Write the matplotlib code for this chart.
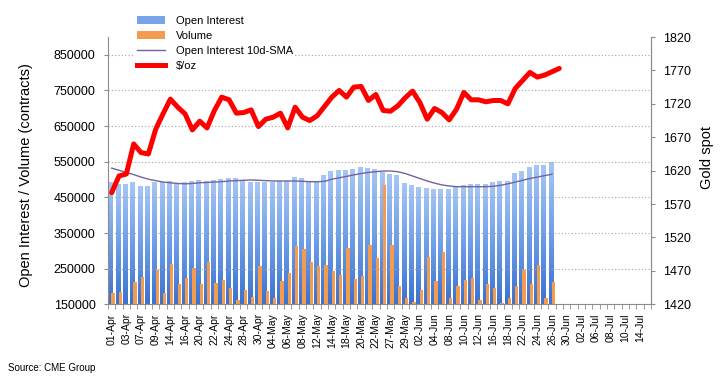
import numpy as np
import matplotlib
matplotlib.use('Agg')
import matplotlib.pyplot as plt
from matplotlib.colors import LinearSegmentedColormap
from matplotlib.patches import Patch
from matplotlib.lines import Line2D
from matplotlib.ticker import StrMethodFormatter

plt.rcParams['font.family'] = ['Liberation Sans', 'DejaVu Sans']

# every other trading day gets a label (01-Apr .. 14-Jul)
tick_labels = ['01-Apr', '03-Apr', '07-Apr', '09-Apr', '14-Apr', '16-Apr', '20-Apr', '22-Apr',
               '24-Apr', '28-Apr', '30-Apr', '04-May', '06-May', '08-May', '12-May', '14-May',
               '18-May', '20-May', '22-May', '27-May', '29-May', '02-Jun', '04-Jun', '08-Jun',
               '10-Jun', '12-Jun', '16-Jun', '18-Jun', '22-Jun', '24-Jun', '26-Jun', '30-Jun',
               '02-Jul', '06-Jul', '08-Jul', '10-Jul', '14-Jul']
n_slots = 74

# contracts, thousands
open_interest = [490, 484, 485, 492, 479, 479, 492, 492, 493, 489, 492, 493, 496, 493, 496, 499,
                 502, 502, 497, 492, 492, 492, 492, 494, 494, 504, 501, 494, 494, 510, 521, 524,
                 524, 527, 532, 529, 527, 518, 513, 510, 488, 482, 476, 473, 471, 471, 471, 476,
                 483, 485, 485, 485, 492, 493, 493, 516, 523, 532, 538, 538, 546]
volume = [183, 185, 152, 213, 227, 152, 246, 183, 263, 206, 223, 251, 206, 270, 211, 218,
          195, 162, 190, 171, 258, 187, 169, 216, 239, 314, 304, 270, 258, 260, 244, 232,
          309, 221, 230, 317, 279, 485, 317, 202, 169, 157, 190, 284, 216, 298, 168, 202,
          218, 225, 162, 207, 195, 153, 168, 202, 246, 207, 260, 168, 213]
oi_sma = [532, 526, 520, 514, 507, 501, 497, 493, 491, 489, 488, 489, 491, 492, 493, 494,
          496, 497, 498, 499, 498, 497, 496, 496, 496, 496, 495, 494, 494, 495, 501, 505,
          509, 513, 517, 520, 522, 524, 524, 522, 517, 510, 503, 496, 490, 485, 482, 480,
          480, 480, 480, 480, 481, 484, 488, 493, 498, 503, 507, 511, 515]
# $/oz
gold = [1587, 1612, 1615, 1660, 1647, 1645, 1682, 1705, 1727, 1715, 1705, 1681, 1694, 1684,
        1710, 1730, 1726, 1706, 1707, 1711, 1686, 1697, 1700, 1706, 1684, 1715, 1700, 1695,
        1702, 1716, 1730, 1740, 1730, 1745, 1746, 1725, 1734, 1710, 1709, 1717, 1729, 1739,
        1722, 1697, 1713, 1707, 1696, 1712, 1737, 1726, 1726, 1723, 1725, 1725, 1720, 1743,
        1755, 1767, 1760, 1763, 1768, 1773]

oi = np.array(open_interest) * 1000
vol = np.array(volume) * 1000
sma = np.array(oi_sma) * 1000
ymin, ymax = 150000, 900000
grey = '#8c8c8c'

fig = plt.figure(figsize=(7.21, 3.83), dpi=100)
ax = fig.add_axes([108 / 721, 1 - 304.3 / 383, 543 / 721, 267.3 / 383])
ax2 = ax.twinx()

x = np.arange(len(oi))
blue_cmap = LinearSegmentedColormap.from_list('oi', ['#3a72cf', '#6e9ee8', '#a6c6f5'])
grad = np.linspace(0, 1, 64).reshape(-1, 1)
bars = ax.bar(x - 0.18, oi, width=0.56, color='none', zorder=1)
for b in bars:
    ax.imshow(grad, extent=(b.get_x(), b.get_x() + b.get_width(), ymin, b.get_height()),
              origin='lower', cmap=blue_cmap, aspect='auto', interpolation='bicubic', zorder=1)
ax.bar(x + 0.2, vol, width=0.45, color='#f39b4e', zorder=2)
ax.plot(x, sma, color='#7462a0', lw=1.0, zorder=3)

ax.set_xlim(-0.5, n_slots - 0.5)
ax.set_ylim(ymin, ymax)
ax.set_yticks(np.arange(150000, 850001, 100000))
ax.yaxis.set_major_formatter(StrMethodFormatter('{x:.0f}'))
ax.set_axisbelow(False)
ax.yaxis.grid(True, color='#a0a0a0', linestyle=(0, (1, 2)), lw=0.8)

ax.set_xticks(np.arange(0, 2 * len(tick_labels), 2))
ax.set_xticklabels(tick_labels, rotation=90, fontsize=7.5)
ax.set_xticks(np.arange(-0.5, n_slots, 1), minor=True)
ax.tick_params(axis='x', which='major', length=0, pad=6.5)
ax.tick_params(axis='x', which='minor', length=3.5, color=grey)
ax.tick_params(axis='y', labelsize=9, length=3, pad=6, color=grey)

ax2.plot(np.arange(len(gold)), gold, color='#ff0000', lw=3.6,
         solid_joinstyle='round', solid_capstyle='round')
ax2.set_ylim(1420, 1820)
ax2.set_yticks(np.arange(1420, 1821, 50))
ax2.tick_params(axis='y', labelsize=9, length=3, pad=5.5, color=grey)

for a in (ax, ax2):
    a.spines['top'].set_visible(False)
    for s in ('left', 'right', 'bottom'):
        a.spines[s].set_color(grey)
        a.spines[s].set_linewidth(0.8)
ax2.spines['left'].set_visible(False)
ax2.spines['bottom'].set_visible(False)

ax.set_ylabel('Open Interest / Volume (contracts)', fontsize=10.5)
ax.yaxis.set_label_coords(-0.138, 0.485)
ax2.set_ylabel('Gold spot', fontsize=10.5)
ax2.yaxis.set_label_coords(1.09, 0.551)

handles = [Patch(facecolor='#78a5ea', edgecolor='none'),
           Patch(facecolor='#f39b4e', edgecolor='none'),
           Line2D([], [], color='#7462a0', lw=1.0),
           Line2D([], [], color='#ff0000', lw=3.6)]
labels = ['Open Interest', 'Volume', 'Open Interest 10d-SMA', '$/oz']
fig.legend(handles, labels, loc='upper left', bbox_to_anchor=(135 / 721, 1 - 14 / 383),
           frameon=True, facecolor='white', edgecolor='none', framealpha=1, fancybox=False,
           fontsize=8, handlelength=2.5, handletextpad=1.0, labelspacing=0.45,
           borderpad=0.2, borderaxespad=0)

fig.text(8 / 721, 1 - 368 / 383, 'Source: CME Group', fontsize=7, va='center')

fig.savefig('out.png', dpi=100)
